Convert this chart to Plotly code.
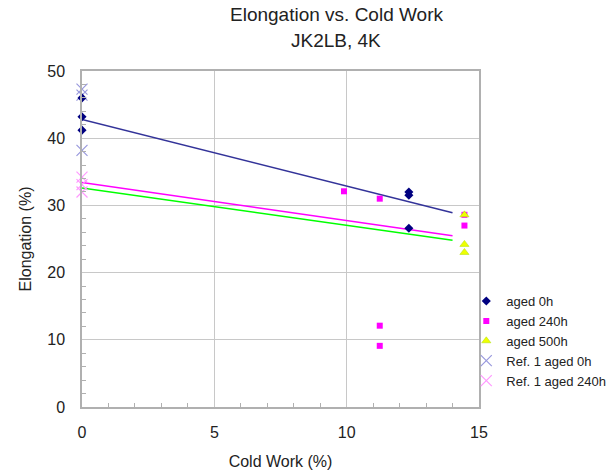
import plotly.graph_objects as go

# ---- data ----
x_0h = [0, 0, 0, 12.35, 12.35, 12.35]
y_0h = [46, 43.2, 41.2, 32.0, 31.5, 26.6]

x_240h = [9.9, 11.25, 11.25, 11.25, 14.45, 14.45]
y_240h = [32.1, 31.0, 12.1, 9.1, 28.6, 27.0]

x_500h = [14.45, 14.45, 14.45]
y_500h = [28.6, 24.2, 23.0]

x_ref0h = [0, 0, 0]
y_ref0h = [47.3, 46.4, 38.2]

x_ref240h = [0, 0, 0]
y_ref240h = [34.2, 33.1, 32.0]

# trendline end points
trend_x = [0, 14.0]
trend_0h = [42.8, 28.9]
trend_240h = [33.4, 25.5]
trend_500h = [32.6, 24.8]

title_lines = ["Elongation vs. Cold Work", "JK2LB, 4K"]

FONT = "Liberation Sans, Arial, sans-serif"
TXT = "#222222"

fig = go.Figure()

# trendlines (no legend)
fig.add_trace(go.Scatter(x=trend_x, y=trend_0h, mode="lines",
                         line=dict(color="#333399", width=1.5), showlegend=False, hoverinfo="skip"))
fig.add_trace(go.Scatter(x=trend_x, y=trend_240h, mode="lines",
                         line=dict(color="#FF00FF", width=1.5), showlegend=False, hoverinfo="skip"))
fig.add_trace(go.Scatter(x=trend_x, y=trend_500h, mode="lines",
                         line=dict(color="#00FF00", width=1.5), showlegend=False, hoverinfo="skip"))

fig.add_trace(go.Scatter(x=x_ref0h, y=y_ref0h, mode="markers", name="Ref. 1 aged 0h", cliponaxis=False,
                         marker=dict(symbol="x-thin", size=11, line=dict(color="#9999DD", width=1.2))))
fig.add_trace(go.Scatter(x=x_ref240h, y=y_ref240h, mode="markers", name="Ref. 1 aged 240h", cliponaxis=False,
                         marker=dict(symbol="x-thin", size=11, line=dict(color="#FF99FF", width=1.2))))
fig.add_trace(go.Scatter(x=x_0h, y=y_0h, mode="markers", name="aged 0h", cliponaxis=False,
                         marker=dict(symbol="diamond", size=7, color="#000080")))
fig.add_trace(go.Scatter(x=x_240h, y=y_240h, mode="markers", name="aged 240h", cliponaxis=False,
                         marker=dict(symbol="square", size=6, color="#FF00FF")))
fig.add_trace(go.Scatter(x=x_500h, y=y_500h, mode="markers", name="aged 500h", cliponaxis=False,
                         marker=dict(symbol="triangle-up", size=8, color="#EEFF00",
                                     line=dict(color="#AADD00", width=0.5))))

fig.update_layout(
    width=612, height=470,
    margin=dict(l=82, r=133, t=71, b=63, autoexpand=False),
    paper_bgcolor="white", plot_bgcolor="white",
    font=dict(family=FONT, color=TXT, size=13),
    showlegend=True,
    legend=dict(x=0.968, xanchor="left", y=0.36, yanchor="top",
                traceorder="normal", font=dict(size=13, family=FONT, color=TXT),
                itemwidth=30, tracegroupgap=4, bgcolor="rgba(0,0,0,0)"),
    xaxis=dict(range=[0, 15], dtick=5, showgrid=True, gridcolor="#C8C8C8", gridwidth=1,
               showline=True, linecolor="#B0B0B0", linewidth=1.5, mirror=True,
               zeroline=False, ticks="", tickfont=dict(size=16), automargin=False,
               ticklabelstandoff=10,
               minor=dict(dtick=1, ticks="inside", ticklen=4, tickcolor="#B0B0B0", showgrid=False),
               title=dict(text="Cold Work (%)", font=dict(size=16), standoff=16)),
    yaxis=dict(range=[0, 50], dtick=10, showgrid=True, gridcolor="#C8C8C8", gridwidth=1,
               showline=True, linecolor="#B0B0B0", linewidth=1.5, mirror=True,
               zeroline=False, ticks="", tickfont=dict(size=16), automargin=False,
               ticklabelstandoff=12,
               minor=dict(dtick=2, ticks="inside", ticklen=4, tickcolor="#B0B0B0", showgrid=False),
               title=dict(text="Elongation (%)", font=dict(size=16), standoff=12)),
)

# title as two centred lines
fig.add_annotation(text=title_lines[0], xref="paper", yref="paper", x=0.64, y=1.167,
                   xanchor="center", yanchor="middle", showarrow=False,
                   font=dict(size=19, family=FONT, color=TXT))
fig.add_annotation(text=title_lines[1], xref="paper", yref="paper", x=0.64, y=1.092,
                   xanchor="center", yanchor="middle", showarrow=False,
                   font=dict(size=19, family=FONT, color=TXT))

# legend order: aged 0h, 240h, 500h, Ref 0h, Ref 240h
fig.data[3].legendrank = 4
fig.data[4].legendrank = 5
fig.data[5].legendrank = 1
fig.data[6].legendrank = 2
fig.data[7].legendrank = 3

fig.write_html("out.html")
